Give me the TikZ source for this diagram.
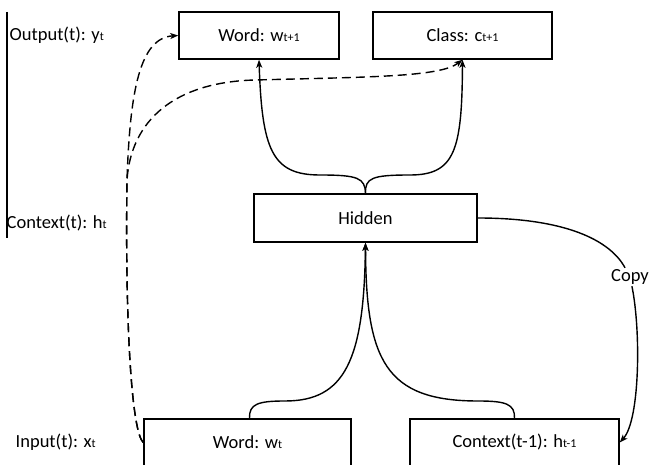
\documentclass[tikz,border=0pt]{standalone}
\usepackage{fontspec}
\setmainfont{Carlito}
\usetikzlibrary{arrows.meta}
\newcommand{\subtxt}[1]{{\fontsize{12}{12}\selectfont #1}}
\begin{document}
\begin{tikzpicture}
[x=1pt, y=-1pt, >={Stealth[length=8pt,width=6pt,inset=2pt]}, line width=1.4pt,
 every node/.style={font=\fontsize{18.5}{22}\selectfont},
 layer/.style={draw, line width=1.5pt, minimum height=47pt, inner sep=0pt},
 lbl/.style={anchor=west, inner sep=0pt},
 skip/.style={dash pattern=on 9pt off 5pt}]
\useasboundingbox (0,0) rectangle (649,465);
\node[layer, minimum width=160pt] (wordout) at (259,35.5) {Word: w\subtxt{t+1}};
\node[layer, minimum width=179pt] (classout) at (462.5,35.5) {Class: c\subtxt{t+1}};
\node[layer, minimum width=223pt, minimum height=48pt] (hidden) at (365.5,218) {Hidden};
\node[layer, minimum width=207pt] (wordin) at (247.5,442.5) {Word: w\subtxt{t}};
\node[layer, minimum width=209pt] (ctxin) at (514.5,442.5) {Context(t-1): h\subtxt{t-1}};
\node[inner sep=1pt] (copy) at (630,277) {Copy};

\node[lbl] (outlbl) at (9,35) {Output(t): y\subtxt{t}};
\node[lbl] (ctxlbl) at (6,223) {Context(t): h\subtxt{t}};
\node[lbl] (inlbl) at (15,442) {Input(t): x\subtxt{t}};
\draw[line width=1.2pt] (7,12) -- (7,238);

\draw[->] (hidden.north) .. controls (365,178) and (358,175) .. (320,175) .. controls (272,175) and (262,150) .. (wordout.south);
\draw[->] (hidden.north) .. controls (365,178) and (372,175) .. (410,175) .. controls (455,175) and (462,150) .. (classout.south);
\draw[->] ([xshift=2pt]wordin.north) .. controls (249,404) and (258,401) .. (285,401) .. controls (345,401) and (364,360) .. (hidden.south);
\draw[->] (ctxin.north) .. controls (515,404) and (506,401) .. (478,401) .. controls (385,401) and (366,360) .. (hidden.south);

\draw (hidden.east) .. controls (565,218) and (610,240) .. (copy);
\draw[->] (copy) .. controls (641,330) and (640,420) .. (ctxin.east);

\coordinate (fork) at (127,180);
\draw[skip,->] (wordin.west) .. controls (132,432) and (125,330) .. (fork) .. controls (130,90) and (140,38) .. (wordout.west);
\draw[skip,->] (wordin.west) .. controls (132,432) and (125,330) .. (fork) .. controls (131,120) and (175,82) .. (255,80) .. controls (370,77) and (440,77) .. (classout.south);
\end{tikzpicture}
\end{document}
